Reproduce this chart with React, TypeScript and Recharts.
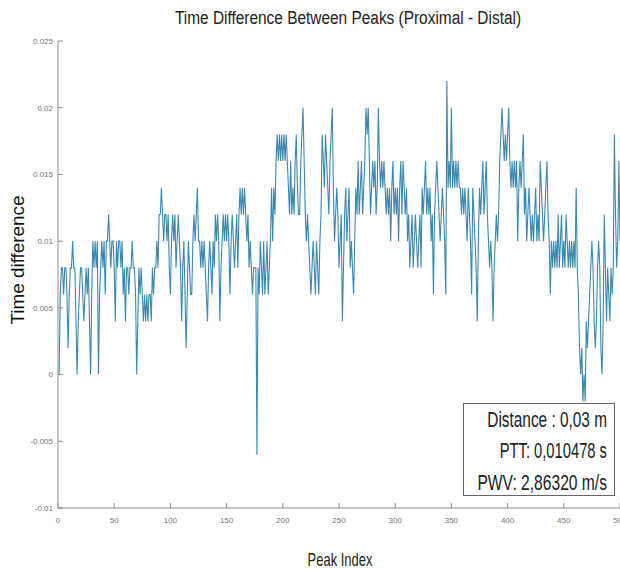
import { Line, LineChart, XAxis, YAxis } from "recharts";

// time difference (s) per detected peak
const timeDiff = [
  0, 0.006, 0.008, 0.008, 0.006, 0.008, 0.008, 0.006, 0.002, 0.006,
  0.008, 0.008, 0.01, 0.008, 0.008, 0.004, 0, 0.004, 0.006, 0.008,
  0.008, 0.006, 0.004, 0.006, 0.008, 0.006, 0.008, 0.004, 0, 0.006,
  0.01, 0.008, 0.01, 0.008, 0.01, 0, 0.006, 0.008, 0.01, 0.008,
  0.01, 0.006, 0.01, 0.01, 0.012, 0.01, 0.008, 0.01, 0.01, 0.008,
  0.004, 0.01, 0.008, 0.01, 0.01, 0.008, 0.01, 0.006, 0.008, 0.004,
  0.008, 0.008, 0.006, 0.008, 0.008, 0.01, 0.008, 0.008, 0.006, 0,
  0.004, 0.008, 0.006, 0.008, 0.006, 0.004, 0.006, 0.004, 0.006, 0.004,
  0.006, 0.006, 0.004, 0.008, 0.006, 0.008, 0.008, 0.01, 0.008, 0.012,
  0.012, 0.014, 0.012, 0.01, 0.012, 0.012, 0.01, 0.012, 0.008, 0.006,
  0.01, 0.012, 0.01, 0.012, 0.008, 0.01, 0.012, 0.01, 0.008, 0.004,
  0.008, 0.01, 0.006, 0.002, 0.006, 0.01, 0.008, 0.006, 0.006, 0.01,
  0.012, 0.01, 0.012, 0.014, 0.01, 0.01, 0.008, 0.01, 0.008, 0.01,
  0.008, 0.006, 0.004, 0.008, 0.01, 0.008, 0.006, 0.01, 0.008, 0.012,
  0.01, 0.012, 0.01, 0.004, 0.008, 0.01, 0.012, 0.01, 0.012, 0.01,
  0.012, 0.01, 0.006, 0.01, 0.012, 0.01, 0.008, 0.01, 0.012, 0.008,
  0.012, 0.014, 0.012, 0.014, 0.012, 0.014, 0.012, 0.01, 0.012, 0.008,
  0.01, 0.008, 0.006, 0.008, 0.008, 0.008, -0.006, 0.008, 0.006, 0.01,
  0.008, 0.006, 0.01, 0.006, 0.008, 0.01, 0.006, 0.008, 0.01, 0.014,
  0.01, 0.014, 0.012, 0.016, 0.018, 0.016, 0.018, 0.016, 0.018, 0.016,
  0.018, 0.016, 0.018, 0.016, 0.014, 0.012, 0.016, 0.012, 0.014, 0.012,
  0.016, 0.018, 0.014, 0.012, 0.012, 0.016, 0.018, 0.02, 0.016, 0.012,
  0.01, 0.012, 0.01, 0.008, 0.006, 0.008, 0.01, 0.008, 0.006, 0.01,
  0.008, 0.006, 0.01, 0.012, 0.018, 0.016, 0.014, 0.018, 0.016, 0.014,
  0.012, 0.016, 0.018, 0.02, 0.014, 0.01, 0.012, 0.014, 0.012, 0.008,
  0.01, 0.012, 0.004, 0.008, 0.012, 0.014, 0.01, 0.012, 0.014, 0.008,
  0.01, 0.008, 0.006, 0.01, 0.014, 0.012, 0.016, 0.012, 0.014, 0.016,
  0.012, 0.014, 0.016, 0.02, 0.018, 0.02, 0.016, 0.012, 0.014, 0.016,
  0.014, 0.016, 0.012, 0.014, 0.02, 0.016, 0.014, 0.016, 0.014, 0.016,
  0.014, 0.012, 0.014, 0.012, 0.014, 0.01, 0.014, 0.016, 0.012, 0.014,
  0.012, 0.014, 0.01, 0.014, 0.016, 0.012, 0.016, 0.014, 0.012, 0.014,
  0.01, 0.012, 0.008, 0.01, 0.012, 0.008, 0.01, 0.012, 0.01, 0.008,
  0.01, 0.012, 0.008, 0.014, 0.012, 0.014, 0.016, 0.012, 0.014, 0.012,
  0.014, 0.01, 0.012, 0.006, 0.012, 0.014, 0.016, 0.014, 0.012, 0.01,
  0.012, 0.014, 0.012, 0.01, 0.006, 0.022, 0.014, 0.016, 0.014, 0.02,
  0.014, 0.016, 0.014, 0.016, 0.014, 0.016, 0.014, 0.014, 0.012, 0.014,
  0.012, 0.014, 0.012, 0.01, 0.014, 0.012, 0.01, 0.006, 0.014, 0.012,
  0.01, 0.008, 0.004, 0.01, 0.014, 0.012, 0.014, 0.016, 0.012, 0.014,
  0.016, 0.012, 0.01, 0.008, 0.01, 0.008, 0.004, 0.008, 0.01, 0.012,
  0.01, 0.012, 0.016, 0.018, 0.02, 0.018, 0.016, 0.018, 0.016, 0.018,
  0.02, 0.016, 0.014, 0.016, 0.014, 0.016, 0.014, 0.016, 0.01, 0.014,
  0.016, 0.014, 0.016, 0.018, 0.012, 0.014, 0.01, 0.012, 0.014, 0.012,
  0.01, 0.012, 0.01, 0.012, 0.014, 0.01, 0.012, 0.01, 0.016, 0.014,
  0.012, 0.01, 0.012, 0.014, 0.016, 0.012, 0.01, 0.006, 0.01, 0.008,
  0.01, 0.008, 0.01, 0.008, 0.012, 0.008, 0.01, 0.012, 0.008, 0.01,
  0.008, 0.012, 0.01, 0.008, 0.01, 0.008, 0.01, 0.008, 0.01, 0.008,
  0.014, 0.008, 0.006, 0.002, 0, 0.002, -0.002, 0, -0.002, 0.004,
  0.002, 0.004, 0.006, 0.008, 0.01, 0.008, 0.004, 0.002, 0.004, 0.008,
  0.01, 0.008, 0.002, 0, 0.004, 0.012, 0.008, 0.004, 0.008, 0.006,
  0.004, 0.008, 0.006, 0.008, 0.018, 0.012, 0.008, 0.01, 0.016, 0.01
];

const xTicks = [0, 50, 100, 150, 200, 250, 300, 350, 400, 450, 500];
const yTicks = [-0.01, -0.005, 0, 0.005, 0.01, 0.015, 0.02, 0.025];

const chartTitle = "Time Difference Between Peaks (Proximal - Distal)";
const xLabel = "Peak Index";
const yLabel = "Time difference";
const infoLines = ["Distance : 0,03 m", "PTT: 0,010478 s", "PWV: 2,86320 m/s"];

const data = timeDiff.map((d, k) => ({ peak: k + 1, diff: d }));

const axisGray = "#8c8c8c";
const tickText = { fontSize: 8, fill: "#777" };

// the source picture is squeezed sideways, so the free texts get a horizontal scale
export default function App() {
  return (
    <div
      style={{
        position: "absolute",
        left: 0,
        top: 0,
        width: 620,
        height: 569,
        background: "#fff",
        fontFamily: "'Liberation Sans', Arial, sans-serif"
      }}
    >
      <LineChart width={620} height={569} data={data} margin={{ top: 41, right: 0, bottom: 31, left: 0 }}>
        <XAxis
          dataKey="peak"
          type="number"
          domain={[0, 500]}
          ticks={xTicks}
          interval={0}
          height={30}
          tickSize={-5}
          tickMargin={14}
          tick={tickText}
          stroke={axisGray}
        />
        <XAxis
          xAxisId="top"
          orientation="top"
          dataKey="peak"
          type="number"
          domain={[0, 500]}
          ticks={xTicks}
          interval={0}
          height={0}
          tickSize={-5}
          tick={false}
          stroke={axisGray}
        />
        <YAxis
          type="number"
          domain={[-0.01, 0.025]}
          ticks={yTicks}
          interval={0}
          width={58}
          tickSize={-5}
          tickMargin={10}
          tick={tickText}
          stroke={axisGray}
        />
        <YAxis
          yAxisId="right"
          orientation="right"
          type="number"
          domain={[-0.01, 0.025]}
          ticks={yTicks}
          interval={0}
          width={0}
          tickSize={-4}
          tick={false}
          stroke={axisGray}
        />
        <Line
          type="linear"
          dataKey="diff"
          stroke="#3b89b0"
          strokeWidth={1.1}
          dot={false}
          isAnimationActive={false}
        />
      </LineChart>

      <svg
        width={620}
        height={569}
        style={{ position: "absolute", left: 0, top: 0, pointerEvents: "none" }}
        fontFamily="'Liberation Sans', Arial, sans-serif"
      >
        <text transform="translate(348, 24) scale(0.857, 1)" textAnchor="middle" fontSize={18} fill="#222">
          {chartTitle}
        </text>
        <text transform="translate(24, 260) rotate(-90) scale(1.05, 1)" textAnchor="middle" fontSize={18} fill="#111">
          {yLabel}
        </text>
        <text transform="translate(340, 566) scale(0.72, 1)" textAnchor="middle" fontSize={18} fill="#222">
          {xLabel}
        </text>

        <rect x={463.5} y={403.5} width={151} height={92} fill="#fff" stroke="#666" strokeWidth={1} />
        <text transform="translate(607, 427) scale(0.7, 1)" textAnchor="end" fontSize={22} fill="#222">
          {infoLines[0]}
        </text>
        <text transform="translate(607, 458) scale(0.67, 1)" textAnchor="end" fontSize={22} fill="#222">
          {infoLines[1]}
        </text>
        <text transform="translate(607, 490) scale(0.71, 1)" textAnchor="end" fontSize={22} fill="#222">
          {infoLines[2]}
        </text>
      </svg>
    </div>
  );
}
